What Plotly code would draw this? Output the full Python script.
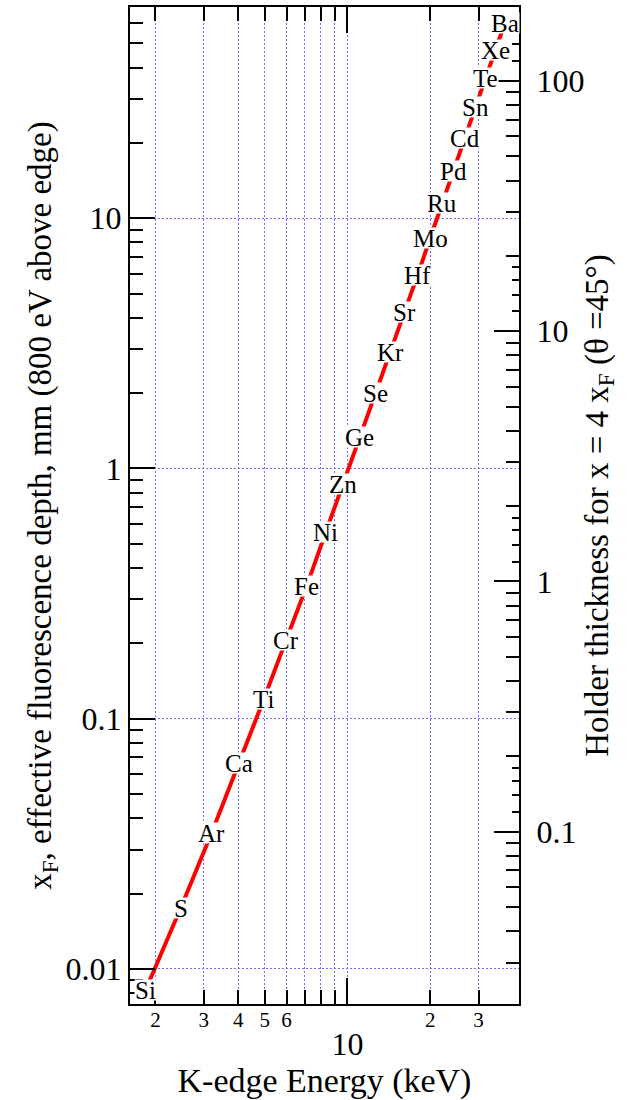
import numpy as np
import plotly.graph_objects as go

# K-edge energies (keV) and effective fluorescence depth x_F (mm, 800 eV above edge)
elements = ["Si", "S", "Ar", "Ca", "Ti", "Cr", "Fe", "Ni", "Zn", "Ge", "Se",
            "Kr", "Sr", "Hf", "Mo", "Ru", "Pd", "Cd", "Sn", "Te", "Xe", "Ba"]
edge_kev = [1.839, 2.472, 3.206, 4.038, 4.966, 5.989, 7.112, 8.333, 9.659, 11.103,
            12.658, 14.326, 16.105, 17.998, 20.000, 22.117, 24.350, 26.711,
            29.200, 31.814, 34.561, 37.441]
depth_mm = [0.0082, 0.0175, 0.0350, 0.0667, 0.120, 0.207, 0.340, 0.555, 0.863,
            1.34, 2.00, 2.91, 4.21, 5.92, 8.32, 11.5, 15.4, 20.9, 27.8, 36.3,
            47.0, 60.3]

# axis ranges and tick positions
x_range = [1.616, 42.1]
y_range = [0.00724, 69.8]
holder_factor = 4 * np.sin(np.radians(45))  # holder thickness x = 4 x_F (theta = 45 deg)

x_major = [10]
x_minor = [2, 3, 4, 5, 6, 7, 8, 9, 20, 30]
x_minor_labels = {2: "2", 3: "3", 4: "4", 5: "5", 6: "6", 20: "2", 30: "3"}

y_major = [0.01, 0.1, 1, 10]
y_labels = ["0.01", "0.1", "1", "10"]
y_minor = [m * d for d in (0.001, 0.01, 0.1, 1, 10) for m in range(2, 10)]
y_minor = [v for v in y_minor if y_range[0] <= v <= y_range[1]]

r_major = [0.1, 1, 10, 100]
r_labels = ["0.1", "1", "10", "100"]
r_lo, r_hi = y_range[0] * holder_factor, y_range[1] * holder_factor
r_minor = [m * d for d in (0.01, 0.1, 1, 10) for m in range(2, 10)]
r_minor = [v for v in r_minor if r_lo <= v <= r_hi]
r_fine = [m * d for d in (0.01, 0.1, 1, 10, 100) for m in (1.2, 1.4, 1.6, 1.8)]
r_fine = [v for v in r_fine if r_lo <= v <= r_hi]

FONT = "Liberation Serif"
GRID = "rgb(110,110,255)"
DOTS = "2px,2px"

lx = [np.log10(v) for v in x_range]
ly = [np.log10(v) for v in y_range]
lr = [np.log10(r_lo), np.log10(r_hi)]


def font(size, family=FONT):
    return dict(family=family, size=size, color="black")


fig = go.Figure()
fig.add_trace(go.Scatter(x=edge_kev, y=depth_mm, mode="lines",
                         line=dict(color="red", width=4),
                         hoverinfo="skip", showlegend=False))
# empty traces so the overlaid axes are drawn
fig.add_trace(go.Scatter(x=[], y=[], xaxis="x2", yaxis="y", showlegend=False))
fig.add_trace(go.Scatter(x=[], y=[], xaxis="x", yaxis="y2", showlegend=False))
fig.add_trace(go.Scatter(x=[], y=[], xaxis="x", yaxis="y3", showlegend=False))

# element labels sit on the curve, with a tight white box masking the line
for name, e, d in zip(elements, edge_kev, depth_mm):
    fig.add_annotation(x=np.log10(e), y=np.log10(d), xref="x", yref="y",
                       text=name, showarrow=False, bgcolor="white", borderpad=0,
                       height=20, valign="middle", font=font(25))

frame = dict(ticks="inside", tickcolor="black", tickwidth=2,
             linecolor="black", linewidth=2, zeroline=False)

fig.update_layout(
    template="none",
    width=631, height=1100,
    margin=dict(l=130, r=112, t=7, b=96),
    paper_bgcolor="white", plot_bgcolor="white",
    font=dict(family=FONT, color="black", size=25),
    xaxis=dict(type="log", range=lx, tickvals=x_major, ticktext=["10"],
               ticklen=26, showline=True, mirror="ticks",
               tickfont=font(32), ticklabelstandoff=11,
               showgrid=True, gridcolor=GRID, gridwidth=1, griddash=DOTS,
               minor=dict(tickvals=x_minor, ticklen=14, tickwidth=2,
                          tickcolor="black", ticks="inside", showgrid=True,
                          gridcolor=GRID, gridwidth=1, griddash=DOTS),
               title=dict(text="K-edge Energy (keV)", font=font(34), standoff=3),
               **frame),
    xaxis2=dict(type="log", range=lx, overlaying="x", anchor="y", side="bottom",
                tickvals=list(x_minor_labels.keys()),
                ticktext=list(x_minor_labels.values()),
                ticks="", showline=False, showgrid=False, zeroline=False,
                tickfont=font(21), ticklabelstandoff=1),
    yaxis=dict(type="log", range=ly, tickvals=y_major, ticktext=y_labels,
               ticklen=25, showline=True, mirror=False,
               tickfont=font(32), ticklabelstandoff=0,
               showgrid=True, gridcolor=GRID, gridwidth=1, griddash=DOTS,
               minor=dict(tickvals=y_minor, ticklen=13, tickwidth=2,
                          tickcolor="black", ticks="inside", showgrid=False),
               title=dict(text="x<sub>F</sub>, effective fluorescence depth, mm (800 eV above edge)",
                          font=font(33), standoff=4),
               **frame),
    yaxis2=dict(type="log", range=lr, overlaying="y", anchor="x", side="right",
                tickvals=r_major, ticktext=r_labels,
                ticklen=25, showline=True, showgrid=False,
                tickfont=font(32), ticklabelstandoff=9,
                minor=dict(tickvals=r_minor, ticklen=13, tickwidth=2,
                           tickcolor="black", ticks="inside", showgrid=False),
                title=dict(text="Holder thickness for x = 4 x<sub>F</sub> (θ =45°)",
                           font=font(33), standoff=1),
                **frame),
    yaxis3=dict(type="log", range=lr, overlaying="y", anchor="x", side="right",
                tickvals=r_fine, ticklen=7, showticklabels=False,
                ticks="inside", tickcolor="black", tickwidth=2,
                showline=False, showgrid=False, zeroline=False),
)

fig.write_html("out.html")
